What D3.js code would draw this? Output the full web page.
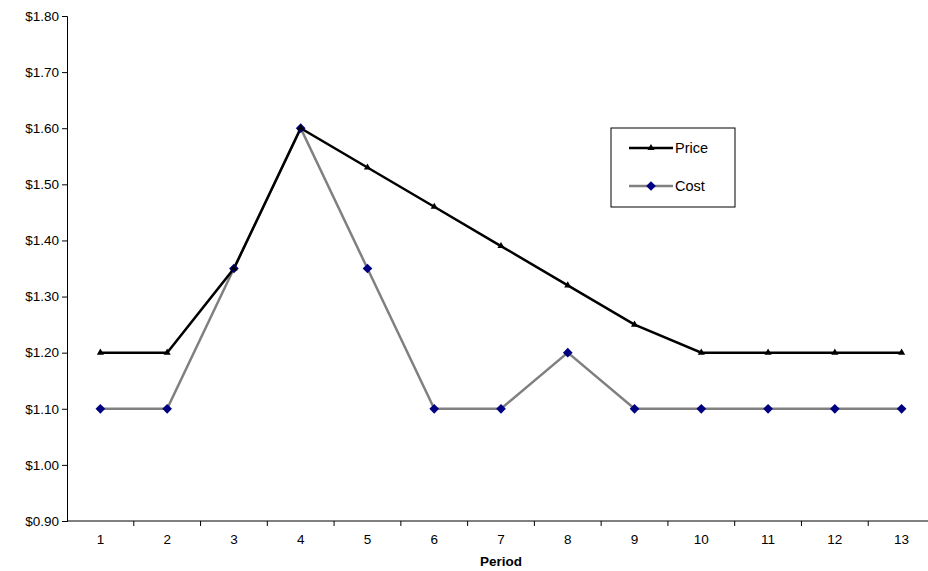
<!DOCTYPE html>
<html><head><meta charset="utf-8">
<script src="https://cdn.jsdelivr.net/npm/d3@7"></script>
<style>body{margin:0;background:#fff}text{font-family:Arial,"Liberation Sans",sans-serif}</style>
</head><body>
<svg id="chart" width="928" height="571"></svg>
<script>
const periods = [1,2,3,4,5,6,7,8,9,10,11,12,13];
const price = [1.20,1.20,1.35,1.60,1.53,1.46,1.39,1.32,1.25,1.20,1.20,1.20,1.20];
const cost = [1.10,1.10,1.35,1.60,1.35,1.10,1.10,1.20,1.10,1.10,1.10,1.10,1.10];
const yTicks = d3.range(0.9, 1.801, 0.1);

const svg = d3.select("#chart");
const m = {left: 67, right: 935, top: 16, bottom: 521};

const x = d3.scaleBand().domain(periods).range([m.left, m.right]);
const y = d3.scaleLinear().domain([0.9, 1.8]).range([m.bottom, m.top]);
const cx = d => x(d) + x.bandwidth() / 2;

// y axis
const yAxis = svg.append("g").attr("transform", `translate(${m.left},0)`)
  .call(d3.axisLeft(y).tickValues(yTicks).tickSize(5).tickFormat(d => "$" + d.toFixed(2)));
yAxis.selectAll("text").attr("font-size", 13.5).attr("fill", "#000");
yAxis.selectAll("line,path").attr("stroke", "#000");

// x axis with ticks between categories
const xg = svg.append("g").attr("transform", `translate(0,${m.bottom})`);
xg.append("line").attr("x1", m.left).attr("x2", m.right).attr("stroke", "#000");
xg.selectAll(".tk").data(periods).enter().append("line")
  .attr("x1", d => x(d) + x.bandwidth()).attr("x2", d => x(d) + x.bandwidth())
  .attr("y1", 0).attr("y2", 5).attr("stroke", "#000");
xg.selectAll(".lb").data(periods).enter().append("text")
  .attr("x", cx).attr("y", 23).attr("text-anchor", "middle").attr("font-size", 13.5).text(d => d);
svg.append("text").attr("x", (m.left + m.right) / 2).attr("y", 566).attr("text-anchor", "middle")
  .attr("font-size", 13.5).attr("font-weight", "bold").text("Period");

const line = d3.line().x((d, i) => cx(periods[i])).y(d => y(d));
svg.append("path").datum(cost).attr("d", line).attr("fill", "none").attr("stroke", "#808080").attr("stroke-width", 2.5);
svg.append("path").datum(price).attr("d", line).attr("fill", "none").attr("stroke", "#000").attr("stroke-width", 2.5);

const diamond = d3.symbol().type(d3.symbolDiamond2).size(60);
const tri = d3.symbol().type(d3.symbolTriangle).size(22);
svg.selectAll(".cm").data(cost).enter().append("path")
  .attr("d", diamond).attr("transform", (d, i) => `translate(${cx(periods[i])},${y(d)})`).attr("fill", "#000080");
svg.selectAll(".pm").data(price).enter().append("path")
  .attr("d", tri).attr("transform", (d, i) => `translate(${cx(periods[i])},${y(d)})`).attr("fill", "#000");

// legend
const lg = svg.append("g").attr("transform", "translate(611,128)");
lg.append("rect").attr("width", 124).attr("height", 79).attr("fill", "#fff").attr("stroke", "#000");
lg.append("line").attr("x1", 18).attr("x2", 62).attr("y1", 20).attr("y2", 20).attr("stroke", "#000").attr("stroke-width", 2.5);
lg.append("path").attr("d", tri).attr("transform", "translate(40,20)");
lg.append("text").attr("x", 64).attr("y", 25).attr("font-size", 14.5).text("Price");
lg.append("line").attr("x1", 18).attr("x2", 62).attr("y1", 58).attr("y2", 58).attr("stroke", "#808080").attr("stroke-width", 2.5);
lg.append("path").attr("d", diamond).attr("transform", "translate(40,58)").attr("fill", "#000080");
lg.append("text").attr("x", 64).attr("y", 63).attr("font-size", 14.5).text("Cost");
</script>
</body></html>
